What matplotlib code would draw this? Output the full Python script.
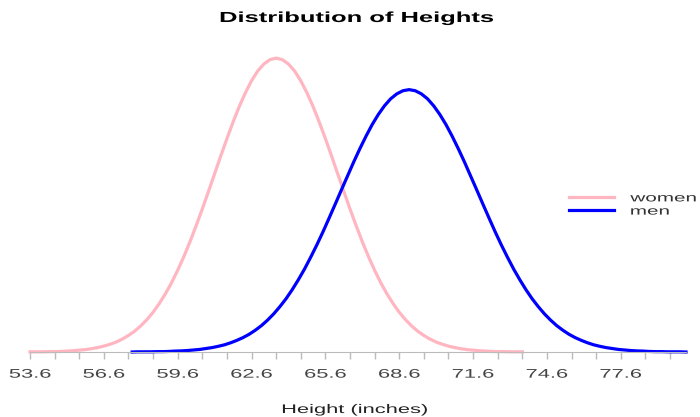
import numpy as np
import matplotlib
matplotlib.use("Agg")
import matplotlib.pyplot as plt
from matplotlib.patheffects import AbstractPathEffect
from matplotlib.transforms import Affine2D

plt.rcParams["font.family"] = ["Liberation Sans", "DejaVu Sans"]

# Height grid (inches) and density
women_x = np.arange(53.6, 73.61, 0.25)
women_y = [
    0.0001, 0.0001, 0.0001, 0.0002, 0.0002, 0.0003, 0.0005, 0.0007, 0.0010, 0.0013,
    0.0018, 0.0024, 0.0032, 0.0042, 0.0054, 0.0070, 0.0090, 0.0113, 0.0142, 0.0176,
    0.0216, 0.0263, 0.0316, 0.0376, 0.0444, 0.0518, 0.0599, 0.0686, 0.0777, 0.0872,
    0.0968, 0.1065, 0.1159, 0.1249, 0.1333, 0.1408, 0.1473, 0.1526, 0.1564, 0.1588,
    0.1596,
    0.1588, 0.1564, 0.1526, 0.1473, 0.1408, 0.1333, 0.1249, 0.1159, 0.1065, 0.0968,
    0.0872, 0.0777, 0.0686, 0.0599, 0.0518, 0.0444, 0.0376, 0.0316, 0.0263, 0.0216,
    0.0176, 0.0142, 0.0113, 0.0090, 0.0070, 0.0054, 0.0042, 0.0032, 0.0024, 0.0018,
    0.0013, 0.0010, 0.0007, 0.0005, 0.0003, 0.0002, 0.0002, 0.0001, 0.0001, 0.0001,
]

men_x = np.arange(57.75, 80.26, 0.25)
men_y = [
    0.0000, 0.0001, 0.0001, 0.0001, 0.0002, 0.0002, 0.0003, 0.0005, 0.0006, 0.0008,
    0.0011, 0.0014, 0.0019, 0.0024, 0.0031, 0.0039, 0.0050, 0.0063, 0.0078, 0.0096,
    0.0118, 0.0143, 0.0173, 0.0207, 0.0246, 0.0289, 0.0338, 0.0392, 0.0450, 0.0514,
    0.0581, 0.0652, 0.0727, 0.0803, 0.0880, 0.0956, 0.1032, 0.1104, 0.1172, 0.1235,
    0.1290, 0.1337, 0.1375, 0.1402, 0.1419,
    0.1425,
    0.1419, 0.1402, 0.1375, 0.1337, 0.1290, 0.1235, 0.1172, 0.1104, 0.1032, 0.0956,
    0.0880, 0.0803, 0.0727, 0.0652, 0.0581, 0.0514, 0.0450, 0.0392, 0.0338, 0.0289,
    0.0246, 0.0207, 0.0173, 0.0143, 0.0118, 0.0096, 0.0078, 0.0063, 0.0050, 0.0039,
    0.0031, 0.0024, 0.0019, 0.0014, 0.0011, 0.0008, 0.0006, 0.0005, 0.0003, 0.0002,
    0.0002, 0.0001, 0.0001, 0.0001, 0.0000,
]

tick_labels = ["53.6", "56.6", "59.6", "62.6", "65.6", "68.6", "71.6", "74.6", "77.6"]


# the reference text is drawn wide, so stretch glyphs sideways
class Stretch(AbstractPathEffect):
    def __init__(self, sx=1.75, anchor="center"):
        super().__init__()
        self.sx = sx
        self.anchor = anchor

    def draw_path(self, renderer, gc, tpath, affine, rgbFace=None):
        bb = tpath.get_extents(affine)
        cx = bb.x0 if self.anchor == "left" else 0.5 * (bb.x0 + bb.x1)
        wide = Affine2D().translate(-cx, 0).scale(self.sx, 1).translate(cx, 0)
        renderer.draw_path(gc, tpath, affine + wide, rgbFace)


fig = plt.figure(figsize=(7, 4.17), dpi=100)
ax = fig.add_axes([30 / 700, 65 / 417, 656 / 700, 313 / 417])

ax.plot(women_x, women_y, color="#FFB6C1", lw=2.3, label="women", clip_on=False)
ax.plot(men_x, men_y, color="#0000FF", lw=2.3, label="men", clip_on=False)

ax.set_xlim(53.6, 80.25)
ax.set_ylim(0, 0.17)

ax.set_xticks([float(t) for t in tick_labels])
ax.set_xticklabels(tick_labels)
ax.set_xticks(np.arange(53.6, 79.7, 1.0), minor=True)
ax.tick_params(axis="x", which="both", length=5, color="#bbbbbb", width=1,
               labelsize=9, labelcolor="#444444", pad=7)
for lab in ax.get_xticklabels():
    lab.set_path_effects([Stretch()])
ax.set_yticks([])
for s in ["top", "right", "left"]:
    ax.spines[s].set_visible(False)
ax.spines["bottom"].set_color("#bbbbbb")

t = fig.text(357 / 700, 1 - 18 / 417, "Distribution of Heights", ha="center", va="center",
             fontsize=10.5, fontweight="bold")
t.set_path_effects([Stretch()])
xl = fig.text(355 / 700, 1 - 410 / 417, "Height (inches)", ha="center", va="center",
              fontsize=9, color="#222222")
xl.set_path_effects([Stretch()])

leg = fig.legend(loc="center left", bbox_to_anchor=(569 / 700, 1 - 205 / 417), frameon=False,
                 fontsize=8.5, handlelength=3.8, handletextpad=1.4, labelspacing=0.1,
                 borderpad=0, borderaxespad=0, labelcolor="#333333")
for txt in leg.get_texts():
    txt.set_path_effects([Stretch(anchor="left")])

fig.savefig("out.png", dpi=100)
